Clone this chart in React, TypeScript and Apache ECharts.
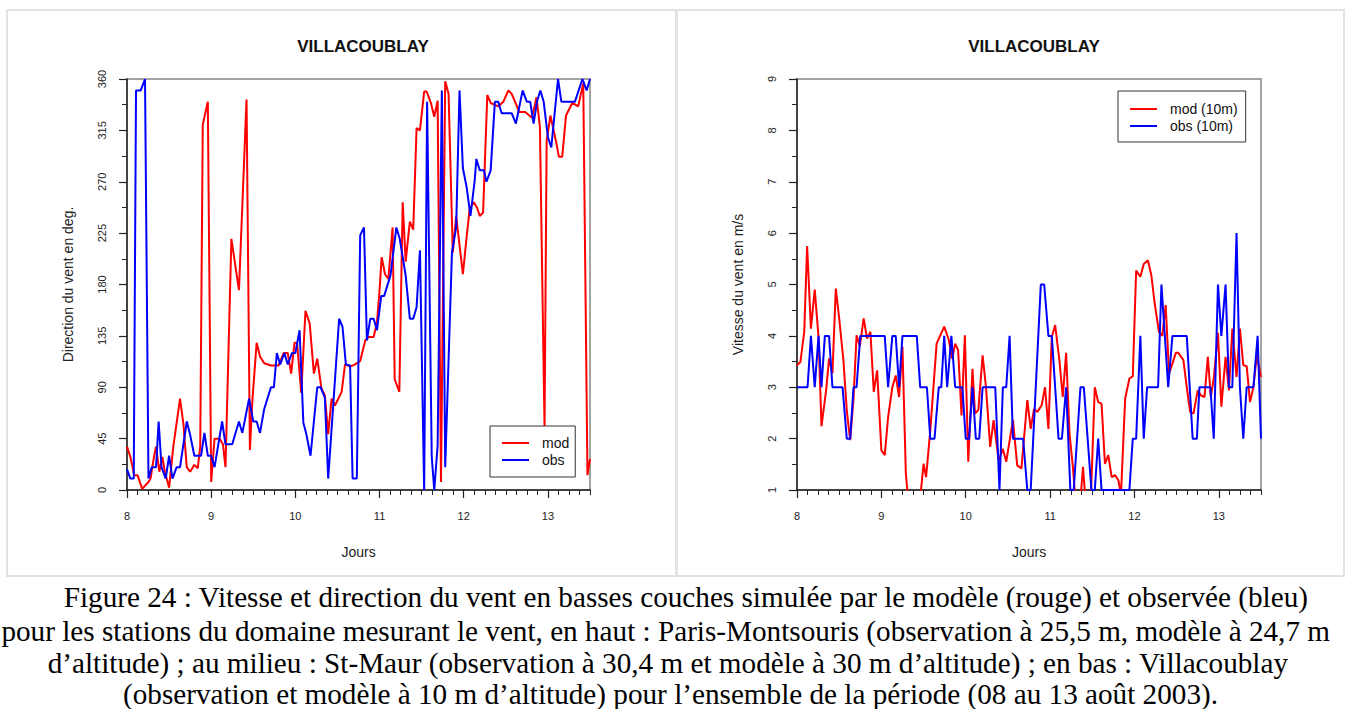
import React, { useEffect, useRef } from "react";
import * as echarts from "echarts";

// ---------- DATA ----------
const dayTicks = [8, 9, 10, 11, 12, 13];
const chartTitle = "VILLACOUBLAY";

// Direction (deg) – model
const dirMod: [number, number][] = [
  [8.0, 38], [8.04, 29], [8.086, 13], [8.125, 13], [8.18, 1], [8.255, 7], [8.28, 10], [8.32, 29],
  [8.345, 38], [8.384, 16], [8.42, 29], [8.45, 16], [8.5, 2], [8.55, 38], [8.63, 80], [8.67, 58],
  [8.71, 20], [8.75, 16], [8.8, 22], [8.84, 19], [8.87, 38], [8.9, 320], [8.96, 340], [9.0, 7],
  [9.04, 45], [9.1, 45], [9.14, 40], [9.17, 20], [9.24, 220], [9.33, 175], [9.42, 342], [9.46, 35],
  [9.49, 79], [9.54, 129], [9.58, 117], [9.63, 111], [9.71, 109], [9.8, 109], [9.86, 120], [9.91, 120],
  [9.95, 102], [9.99, 129], [10.02, 129], [10.07, 85], [10.12, 157], [10.17, 146], [10.22, 102],
  [10.26, 115], [10.31, 89], [10.35, 83], [10.39, 49], [10.43, 80], [10.47, 74], [10.55, 86],
  [10.59, 110], [10.65, 108], [10.71, 110], [10.77, 113], [10.83, 131], [10.87, 134], [10.93, 134],
  [10.97, 147], [11.0, 175], [11.025, 204], [11.065, 189], [11.105, 185], [11.155, 230], [11.18, 97],
  [11.235, 86], [11.275, 252], [11.31, 200], [11.36, 235], [11.4, 228], [11.44, 317], [11.48, 315],
  [11.53, 349], [11.56, 349], [11.61, 339], [11.65, 327], [11.69, 341], [11.73, 7], [11.78, 358],
  [11.82, 347], [11.87, 208], [11.91, 240], [11.99, 189], [12.035, 222], [12.07, 246], [12.12, 252],
  [12.16, 247], [12.19, 240], [12.23, 243], [12.28, 346], [12.32, 339], [12.41, 336], [12.47, 340],
  [12.53, 350], [12.57, 347], [12.61, 340], [12.66, 331], [12.73, 331], [12.81, 326], [12.865, 344],
  [12.905, 318], [12.96, 55], [12.985, 306], [13.03, 328], [13.1, 304], [13.13, 292], [13.17, 292],
  [13.215, 328], [13.29, 339], [13.36, 336], [13.42, 356], [13.47, 13], [13.5, 27],
];

// Direction (deg) – observation
const dirObs: [number, number][] = [
  [8.0, 18], [8.04, 10], [8.08, 10], [8.107, 350], [8.163, 350], [8.214, 360], [8.255, 10], [8.294, 20],
  [8.345, 20], [8.376, 60], [8.41, 20], [8.46, 10], [8.5, 30], [8.54, 10], [8.59, 20], [8.63, 20],
  [8.71, 60], [8.745, 50], [8.8, 30], [8.88, 30], [8.92, 50], [8.96, 30], [9.0, 30], [9.04, 20],
  [9.13, 60], [9.17, 40], [9.25, 40], [9.33, 60], [9.37, 50], [9.45, 80], [9.5, 60], [9.54, 60],
  [9.58, 50], [9.63, 71], [9.71, 90], [9.745, 90], [9.78, 120], [9.82, 110], [9.87, 120], [9.91, 110],
  [9.96, 120], [10.0, 120], [10.05, 140], [10.095, 59], [10.13, 49], [10.18, 30], [10.26, 90],
  [10.3, 90], [10.35, 81], [10.39, 10], [10.52, 150], [10.56, 143], [10.6, 110], [10.65, 109],
  [10.68, 10], [10.73, 10], [10.77, 223], [10.815, 230], [10.85, 131], [10.89, 150], [10.93, 150],
  [10.97, 140], [11.02, 170], [11.055, 170], [11.13, 188], [11.2, 230], [11.24, 220], [11.31, 188],
  [11.36, 150], [11.4, 150], [11.44, 160], [11.48, 210], [11.53, 0], [11.565, 340], [11.62, 29],
  [11.65, 0], [11.69, 39], [11.74, 350], [11.78, 20], [11.86, 208], [11.91, 230], [11.95, 350],
  [11.99, 282], [12.035, 265], [12.08, 240], [12.13, 271], [12.15, 290], [12.19, 280], [12.24, 280],
  [12.27, 270], [12.32, 280], [12.37, 340], [12.41, 340], [12.45, 330], [12.57, 330], [12.62, 321],
  [12.7, 350], [12.75, 340], [12.79, 340], [12.83, 321], [12.87, 340], [12.91, 350], [12.95, 340],
  [13.0, 309], [13.04, 300], [13.12, 360], [13.16, 340], [13.32, 340], [13.41, 360], [13.46, 350],
  [13.5, 360],
];

// Speed (m/s) – model 10 m
const spdMod: [number, number][] = [
  [8.0, 3.43], [8.04, 3.49], [8.086, 4.08], [8.12, 5.75], [8.165, 4.14], [8.21, 4.9], [8.255, 3.98],
  [8.29, 2.24], [8.345, 2.94], [8.38, 3.56], [8.42, 3.27], [8.46, 4.92], [8.5, 4.34], [8.55, 3.53],
  [8.59, 2.55], [8.63, 1.97], [8.67, 2.78], [8.706, 4.01], [8.745, 3.8], [8.79, 4.34], [8.83, 3.95],
  [8.87, 4.08], [8.91, 2.91], [8.95, 3.33], [9.0, 1.77], [9.04, 1.68], [9.08, 2.42], [9.13, 3.0],
  [9.17, 3.23], [9.21, 2.81], [9.25, 3.79], [9.29, 1.32], [9.33, 0.6], [9.42, 0.6], [9.47, 1.0],
  [9.5, 1.51], [9.53, 1.25], [9.58, 2.16], [9.655, 3.85], [9.745, 4.18], [9.8, 3.92], [9.84, 3.56],
  [9.875, 3.85], [9.91, 3.72], [9.95, 2.45], [9.99, 4.01], [10.03, 1.55], [10.08, 3.36], [10.11, 2.49],
  [10.15, 2.56], [10.2, 3.62], [10.24, 3.0], [10.29, 1.84], [10.33, 2.36], [10.39, 1.58], [10.44, 1.8],
  [10.48, 1.55], [10.56, 2.36], [10.61, 1.48], [10.66, 1.42], [10.73, 2.75], [10.77, 2.19], [10.81, 2.58],
  [10.85, 2.52], [10.9, 2.65], [10.94, 3.0], [10.98, 2.19], [11.02, 3.98], [11.06, 4.21], [11.11, 3.53],
  [11.15, 2.81], [11.19, 3.67], [11.23, 2.1], [11.27, 1.45], [11.3, 0.8], [11.35, 0.6], [11.39, 1.45],
  [11.42, 0.8], [11.48, 0.7], [11.53, 3.0], [11.57, 2.71], [11.61, 2.68], [11.65, 1.51], [11.69, 1.68],
  [11.73, 1.25], [11.77, 1.29], [11.81, 1.19], [11.84, 0.9], [11.89, 2.78], [11.94, 3.17], [11.98, 3.21],
  [12.02, 5.27], [12.07, 5.15], [12.11, 5.4], [12.16, 5.47], [12.2, 5.18], [12.24, 4.63], [12.29, 4.08],
  [12.33, 4.0], [12.37, 4.6], [12.41, 3.27], [12.45, 3.46], [12.49, 3.67], [12.52, 3.67], [12.58, 3.53],
  [12.62, 3.0], [12.66, 2.52], [12.7, 2.49], [12.75, 2.94], [12.79, 2.84], [12.83, 2.81], [12.87, 3.59],
  [12.905, 2.81], [12.94, 3.17], [12.99, 4.06], [13.03, 2.62], [13.08, 3.59], [13.12, 2.94], [13.16, 4.14],
  [13.21, 3.2], [13.25, 4.14], [13.29, 3.43], [13.33, 3.41], [13.37, 2.71], [13.41, 3.0], [13.45, 3.62],
  [13.5, 3.2],
];

// Speed (m/s) – observation 10 m
const spdObs: [number, number][] = [
  [8.0, 3], [8.125, 3], [8.165, 4], [8.21, 3], [8.255, 4], [8.29, 3], [8.33, 4], [8.38, 4], [8.42, 3],
  [8.54, 3], [8.59, 2], [8.63, 2], [8.67, 3], [8.706, 3], [8.75, 4], [9.04, 4], [9.08, 3], [9.13, 4],
  [9.17, 4], [9.21, 3], [9.25, 4], [9.42, 4], [9.46, 3], [9.54, 3], [9.58, 2], [9.63, 2], [9.68, 3],
  [9.71, 3], [9.745, 4], [9.78, 3], [9.83, 4], [9.875, 3], [9.96, 3], [10.0, 2], [10.04, 2], [10.08, 3],
  [10.12, 2], [10.16, 2], [10.2, 3], [10.35, 3], [10.4, 1], [10.44, 3], [10.48, 3], [10.52, 4], [10.56, 2],
  [10.68, 2], [10.73, 1], [10.77, 1], [10.83, 3], [10.89, 5], [10.93, 5], [10.98, 4], [11.02, 4], [11.06, 3],
  [11.1, 2], [11.14, 2], [11.19, 3], [11.24, 1], [11.28, 1], [11.36, 3], [11.4, 3], [11.49, 1], [11.53, 1],
  [11.57, 2], [11.61, 1], [11.94, 1], [11.98, 2], [12.02, 2], [12.07, 4], [12.11, 2], [12.15, 3], [12.28, 3],
  [12.32, 5], [12.36, 4], [12.4, 3], [12.45, 4], [12.62, 4], [12.69, 2], [12.74, 2], [12.77, 3], [12.9, 3],
  [12.94, 2], [12.99, 5], [13.03, 4], [13.08, 5], [13.12, 3], [13.16, 3], [13.21, 6], [13.25, 3], [13.29, 2],
  [13.33, 3], [13.41, 3], [13.46, 4], [13.5, 2],
];

const captionLines = [
  "Figure 24 : Vitesse et direction du vent en basses couches simulée par le modèle (rouge) et observée (bleu)",
  "pour les stations du domaine mesurant le vent, en haut : Paris-Montsouris (observation à 25,5 m, modèle à 24,7 m",
  "d’altitude) ; au milieu : St-Maur (observation à 30,4 m et modèle à 30 m d’altitude) ; en bas : Villacoublay",
  "(observation et modèle à 10 m d’altitude) pour l’ensemble de la période (08 au 13 août 2003).",
];

// ---------- CHART ----------
const SANS = "'Liberation Sans', Arial, sans-serif";
const SERIF = "'Liberation Serif', 'Times New Roman', serif";
const AX = "#222";

export default function App() {
  const ref = useRef<HTMLDivElement>(null);

  useEffect(() => {
    if (!ref.current) return;
    const chart = echarts.init(ref.current, null, { renderer: "svg" });

    const grids = [
      { left: 127, top: 79, width: 463, height: 411 },
      { left: 797, top: 79, width: 464, height: 411 },
    ].map((g) => ({ ...g, show: true, borderColor: "#a3a3a3", borderWidth: 2, backgroundColor: "transparent" }));

    const mainX = (gridIndex: number) => ({
      type: "value",
      gridIndex,
      position: "bottom",
      min: 8,
      max: 13.5,
      interval: 1,
      name: "Jours",
      nameLocation: "middle",
      nameGap: 55,
      nameTextStyle: { fontFamily: SANS, fontSize: 14, color: AX },
      axisLine: { show: true, onZero: false, lineStyle: { color: AX, width: 1.5 } },
      axisTick: { show: true, length: 8, customValues: dayTicks, lineStyle: { color: AX, width: 1.2 } },
      axisLabel: { show: true, customValues: dayTicks, margin: 20, fontFamily: SANS, fontSize: 11, color: AX },
      splitLine: { show: false },
    });
    const minorX = (gridIndex: number) => ({
      type: "value",
      gridIndex,
      position: "bottom",
      min: 8,
      max: 13.5,
      interval: 0.125,
      axisLine: { show: false },
      axisTick: { show: true, length: 5, lineStyle: { color: AX, width: 1 } },
      axisLabel: { show: false },
      splitLine: { show: false },
    });
    const yAx = (gridIndex: number, min: number, max: number, interval: number, name: string) => ({
      type: "value",
      gridIndex,
      position: "left",
      min,
      max,
      interval,
      name,
      nameLocation: "middle",
      nameGap: 52,
      nameRotate: 90,
      nameTextStyle: { fontFamily: SANS, fontSize: 14, color: AX },
      axisLine: { show: true, onZero: false, lineStyle: { color: AX, width: 1.5 } },
      axisTick: { show: true, length: 8, lineStyle: { color: AX, width: 1.2 } },
      minorTick: { show: true, splitNumber: 2, length: 5, lineStyle: { color: AX, width: 1 } },
      axisLabel: { show: true, rotate: 90, margin: 20, fontFamily: SANS, fontSize: 11, color: AX },
      splitLine: { show: false },
    });

    const line = (name: string, data: [number, number][], color: string, xAxisIndex: number, yAxisIndex: number) => ({
      name,
      type: "line",
      data,
      xAxisIndex,
      yAxisIndex,
      showSymbol: false,
      symbol: "none",
      clip: true,
      lineStyle: { color, width: 2 },
      itemStyle: { color },
      z: color === "#0000ff" ? 3 : 2,
    });

    const legendBase = {
      orient: "vertical",
      icon: "rect",
      itemWidth: 27,
      itemHeight: 2,
      itemGap: 3,
      borderColor: "#333",
      borderWidth: 1,
      borderRadius: 0,
      backgroundColor: "#fff",
      selectedMode: false,
      textStyle: { fontFamily: SANS, fontSize: 14, color: "#111", padding: [0, 0, 0, 8] },
    };

    const caption = captionLines.map((t, i) => ({
      type: "text",
      x: [1308, 1330, 1288, 1218][i],
      y: [597, 631, 663, 694][i],
      style: {
        text: t,
        fill: "#000",
        font: `29.2px ${SERIF}`,
        textAlign: "right",
        textVerticalAlign: "middle",
      },
    }));

    chart.setOption({
      animation: false,
      backgroundColor: "#fff",
      title: [
        { text: chartTitle, left: 358, top: 33, textAlign: "center", textStyle: { fontFamily: SANS, fontSize: 17, fontWeight: "bold", color: "#111" } },
        { text: chartTitle, left: 1029, top: 33, textAlign: "center", textStyle: { fontFamily: SANS, fontSize: 17, fontWeight: "bold", color: "#111" } },
      ],
      grid: grids,
      xAxis: [mainX(0), minorX(0), mainX(1), minorX(1)],
      yAxis: [
        yAx(0, 0, 360, 45, "Direction du vent en deg."),
        yAx(1, 1, 9, 1, "Vitesse du vent en m/s"),
      ],
      legend: [
        { ...legendBase, data: ["mod", "obs"], left: 490, top: 426, padding: [10, 6, 10, 12] },
        { ...legendBase, data: ["mod (10m)", "obs (10m)"], left: 1118, top: 91, padding: [11, 8, 9, 12] },
      ],
      series: [
        line("mod", dirMod, "#ff0000", 0, 0),
        line("obs", dirObs, "#0000ff", 0, 0),
        line("mod (10m)", spdMod, "#ff0000", 2, 1),
        line("obs (10m)", spdObs, "#0000ff", 2, 1),
      ],
      graphic: [
        { type: "rect", shape: { x: 7, y: 10, width: 669, height: 566 }, style: { fill: "none", stroke: "#e2e2e2", lineWidth: 2 }, silent: true },
        { type: "rect", shape: { x: 677, y: 10, width: 667, height: 566 }, style: { fill: "none", stroke: "#e2e2e2", lineWidth: 2 }, silent: true },
        ...caption,
      ],
    });

    return () => chart.dispose();
  }, []);

  return (
    <div
      ref={ref}
      style={{ position: "absolute", left: 0, top: 0, width: 1351, height: 709, background: "#fff" }}
    />
  );
}
